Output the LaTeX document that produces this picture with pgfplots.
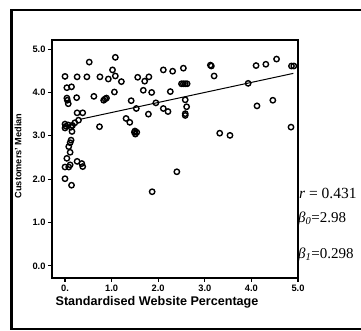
\documentclass[border=0pt]{standalone}
\usepackage{fontspec}
\setmainfont{Liberation Serif}
\setsansfont{Liberation Sans}
\usepackage{pgfplots}
\pgfplotsset{compat=1.18}
\begin{document}
\begin{tikzpicture}
\useasboundingbox (-52pt,-53pt) rectangle (309pt,278pt);
\begin{axis}[
  scale only axis, width=246pt, height=238pt,
  xmin=-0.279, xmax=5.0, ymin=-0.28, ymax=5.21,
  axis line style={line width=1.2pt},
  tick align=outside, tick style={line width=1.1pt, black}, major tick length=4pt,
  xtick pos=bottom, ytick pos=left,
  xtick={0,1,2,3,4,5}, xticklabels={0.,1.0,2.0,3.0,4.0,5.0},
  ytick={0,1,2,3,4,5}, yticklabels={0.0,1.0,2.0,3.0,4.0,5.0},
  ticklabel style={font=\sffamily\bfseries\fontsize{9.3}{10}\selectfont},
  xticklabel style={yshift=1pt},
  yticklabel style={xshift=1pt},
  xlabel={Standardised Website Percentage},
  xlabel style={font=\sffamily\bfseries\fontsize{12.6}{14}\selectfont, at={(axis description cs:0.427,0)}, anchor=north, yshift=-15pt},
  ylabel={Customers' Median},
  ylabel style={font=\sffamily\bfseries\fontsize{9.2}{10}\selectfont, at={(axis description cs:-0.138,0.513)}, anchor=center},
  clip=false,
]
\addplot[only marks, mark=o, mark size=2.7pt, mark options={line width=1.4pt, black}] coordinates {
(0.00,4.37) (0.26,4.36) (0.47,4.36) (0.52,4.70) (0.75,4.36) (0.93,4.31)
(1.02,4.52) (1.08,4.81) (1.08,4.38) (1.21,4.25) (0.04,4.11) (0.14,4.13)
(0.04,3.87) (0.05,3.82) (0.07,3.74) (0.25,3.88) (0.62,3.91) (0.83,3.82)
(0.86,3.85) (0.89,3.87) (1.06,4.01) (1.42,3.81) (1.56,4.35) (1.71,4.26)
(1.80,4.36) (1.68,4.05) (1.86,4.00) (1.53,3.63) (1.79,3.50) (1.95,3.76)
(2.11,4.52) (2.31,4.49) (2.54,4.56) (2.26,4.02) (2.11,3.63) (2.21,3.56)
(2.50,4.20) (2.54,4.20) (2.58,4.20) (2.62,4.20)
(2.58,3.83) (2.61,3.67) (2.58,3.51) (2.58,3.47)
(3.12,4.63) (3.14,4.61) (3.20,4.38) (3.32,3.06) (3.54,3.01) (3.93,4.21)
(4.10,4.62) (4.31,4.65) (4.54,4.77) (4.86,4.61) (4.91,4.61)
(4.12,3.69) (4.46,3.82) (4.85,3.20) (1.87,1.71) (2.40,2.17)
(1.31,3.40) (1.39,3.31) (1.49,3.08) (1.51,3.04) (1.54,3.08) (1.50,3.11)
(0.74,3.21) (0.26,3.53) (0.38,3.53) (0.29,3.36) (0.21,3.30) (0.16,3.24)
(0.00,3.27) (0.00,3.18) (0.07,3.25) (0.13,3.20) (0.02,3.22)
(0.15,3.10) (0.13,2.90) (0.11,2.84) (0.08,2.75) (0.11,2.62) (0.04,2.48)
(0.26,2.41) (0.00,2.28) (0.08,2.28) (0.11,2.33) (0.36,2.36) (0.38,2.29)
(0.00,2.01) (0.14,1.86)
};
\addplot[black, line width=1pt] coordinates {(0.32,3.38) (4.90,4.44)};
\node[anchor=base west, font=\fontsize{15.5}{17}\selectfont, inner sep=0pt] at (axis description cs:1.004,0.336) {\textit{r} = 0.431};
\node[anchor=base west, font=\fontsize{15}{17}\selectfont, inner sep=0pt] at (axis description cs:1.0,0.235) {\textit{β}\textsubscript{\textit{0}}=2.98};
\node[anchor=base west, font=\fontsize{15}{17}\selectfont, inner sep=0pt] at (axis description cs:1.0,0.084) {\textit{β}\textsubscript{\textit{1}}=0.298};
\end{axis}
\draw[line width=3pt] (-40pt,-51.5pt) -- (-40pt,268pt);
\draw[line width=2.5pt] (-41.5pt,268pt) -- (309pt,268pt);
\draw[line width=2pt] (-41.5pt,-51.5pt) -- (309pt,-51.5pt);
\end{tikzpicture}
\end{document}
